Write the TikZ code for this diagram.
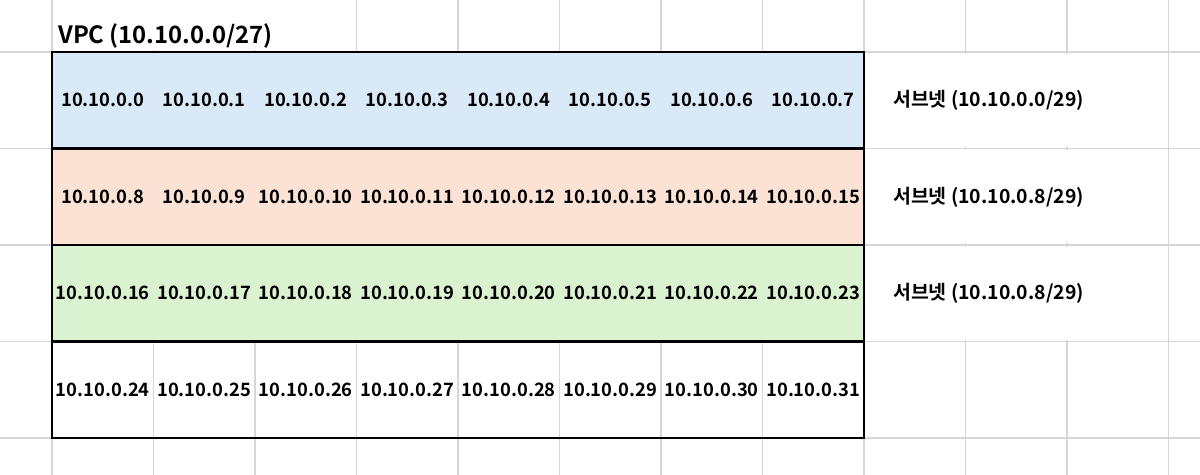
\documentclass[tikz,border=0pt]{standalone}
\usepackage{fontspec}
\setmainfont{Noto Sans CJK KR}[BoldFont={Noto Sans CJK KR Bold}]
\usepackage{tikz}
\usetikzlibrary{calc}
\definecolor{netblue}{HTML}{DAE9F8}
\definecolor{netorange}{HTML}{FBE2D5}
\definecolor{netgreen}{HTML}{DAF2D0}
\definecolor{gridgray}{HTML}{D6D6D6}
\newcommand*{\IpRow}[3]{% #1 = row, #2 = fill, #3 = first host
\path [#2] (0,-#1) rectangle (8,-#1-1);
\foreach \c in {0,...,7} {
\pgfmathtruncatemacro{\h}{#3+\c}
\node [ipcell] (ip\h) at (\c+.5,-#1-.5) {10.10.0.\h};
}%
}

\begin{document}
\begin{tikzpicture}[x=101.5pt,y=96.5pt,
    ipcell/.style={draw=none, inner sep=0pt, font=\fontsize{18.4}{21}\selectfont\bfseries},
    netlabel/.style={ipcell, anchor=base west, xshift=29pt, yshift=-6.5pt,
        font=\fontsize{19.4}{22}\selectfont\bfseries},
    gridline/.style={gridgray, line width=1.3pt},
    boxline/.style={black, line width=2.6pt}]

            \useasboundingbox (-0.5123,0.5389) rectangle (11.3103,-4.3731);
            \clip (-0.5123,0.5389) rectangle (11.3103,-4.3731);
            % sheet grid
            \foreach \x in {-1,...,12} {
            \draw [gridline] (\x,1) -- (\x,-5);
            }
            \foreach \y in {-5,...,1} {
            \draw [gridline] (-1,\y) -- (12,\y);
            }
            \fill [white] (0.05,0.02) rectangle (2.95,0.6);
            \foreach \r in {0,1,2} {
            \fill [white] (8.05,-\r-0.02) rectangle (10.95,-\r-0.98);
            }
            % rows
            \IpRow{0}{fill=netblue}{0}
            \IpRow{1}{fill=netorange}{8}
            \IpRow{2}{fill=netgreen}{16}
            \IpRow{3}{fill=none}{24}
            \foreach \y in {1,2,3} {
            \draw [boxline] (0,-\y) -- (8,-\y);
            }
            \draw [boxline] (0,0) rectangle (8,-4);
            % labels
            \node [ipcell, anchor=base west, font=\fontsize{23.8}{26}\selectfont\bfseries] (vpc)
                at (0.06,0.093) {VPC (10.10.0.0/27)};
            \node [netlabel] (net0) at (8,-0.5) {서브넷 (10.10.0.0/29)};
            \node [netlabel] (net1) at (8,-1.5) {서브넷 (10.10.0.8/29)};
            \node [netlabel] (net2) at (8,-2.5) {서브넷 (10.10.0.8/29)};
        \end{tikzpicture}
\end{document}
